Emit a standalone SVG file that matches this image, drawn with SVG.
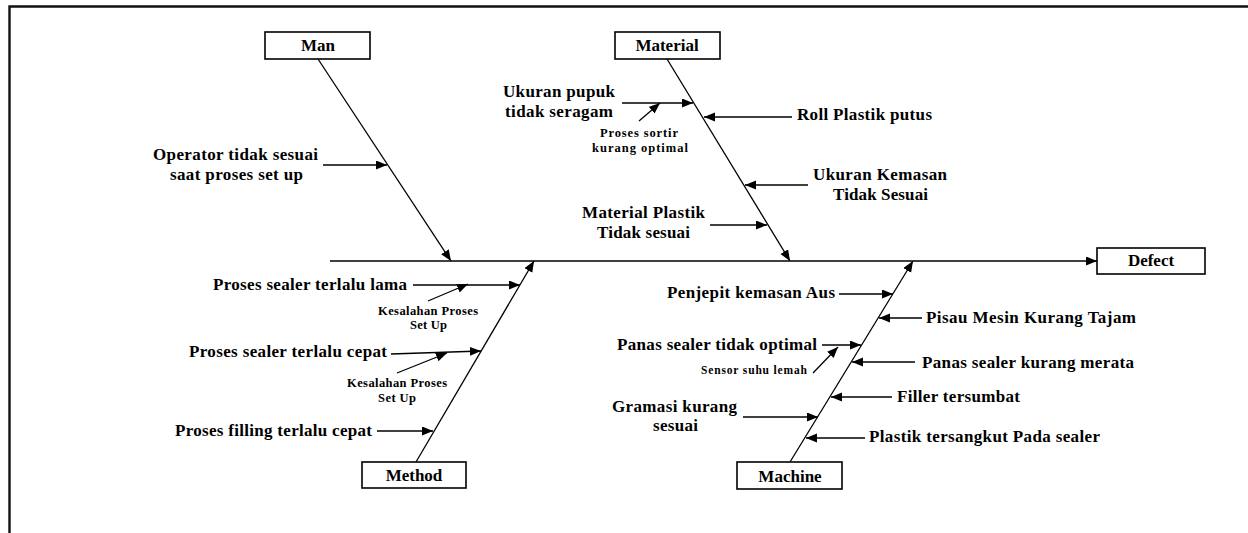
<svg xmlns="http://www.w3.org/2000/svg" width="1248" height="533" viewBox="0 0 1248 533">
<style>
.t{font-family:"Liberation Serif","Times New Roman",serif;font-weight:bold;font-size:17px;fill:#000}
.s{font-family:"Liberation Serif","Times New Roman",serif;font-weight:bold;font-size:12.5px;fill:#000}
.xs{font-family:"Liberation Serif","Times New Roman",serif;font-weight:bold;font-size:11.5px;fill:#000}
.b{fill:#fff;stroke:#000;stroke-width:1.6}
.l{stroke:#000;stroke-width:1.3;fill:none;marker-end:url(#ah)}
.frame{stroke:#111;stroke-width:2.4;fill:none}
</style>
<defs>
<marker id="ah" markerUnits="userSpaceOnUse" markerWidth="12" markerHeight="10" refX="11" refY="4.5" orient="auto">
<path d="M0,0 L11,4.5 L0,9 Z" fill="#000"/>
</marker>
</defs>
<rect width="1248" height="533" fill="#fff"/>
<path class="frame" d="M9.5,533 V6.5 H1248"/>

<g id="connectors">
<line class="l" x1="330" y1="261" x2="1097" y2="261"/>
<line class="l" x1="318" y1="59" x2="451" y2="261"/>
<line class="l" x1="667" y1="59" x2="790" y2="261"/>
<line class="l" x1="416" y1="462" x2="534" y2="261"/>
<line class="l" x1="790" y1="462" x2="913" y2="261"/>
<line class="l" x1="323" y1="165" x2="387" y2="165"/>
<line class="l" x1="622" y1="103" x2="693" y2="103"/>
<line class="l" x1="639" y1="121" x2="660" y2="103"/>
<line class="l" x1="792" y1="117" x2="704" y2="117"/>
<line class="l" x1="808" y1="185" x2="745" y2="185"/>
<line class="l" x1="710" y1="225" x2="767" y2="225"/>
<line class="l" x1="413" y1="285" x2="520" y2="285"/>
<line class="l" x1="428" y1="301" x2="468" y2="284"/>
<line class="l" x1="391" y1="354" x2="481" y2="351"/>
<line class="l" x1="397" y1="373" x2="447" y2="353"/>
<line class="l" x1="377" y1="431" x2="433" y2="431"/>
<line class="l" x1="839" y1="294" x2="893" y2="294"/>
<line class="l" x1="922" y1="318" x2="879" y2="318"/>
<line class="l" x1="822" y1="345" x2="861" y2="345"/>
<line class="l" x1="813" y1="373" x2="838" y2="347"/>
<line class="l" x1="915" y1="362" x2="852" y2="362"/>
<line class="l" x1="892" y1="397" x2="831" y2="397"/>
<line class="l" x1="743" y1="417" x2="818" y2="417"/>
<line class="l" x1="865" y1="438" x2="806" y2="438"/>
</g>

<g id="man">
<rect class="b" x="265" y="32" width="105" height="27"/>
<text class="t" x="318" y="51" text-anchor="middle">Man</text>
</g>
<g id="material">
<rect class="b" x="615" y="32" width="105" height="27"/>
<text class="t" x="667" y="51" text-anchor="middle">Material</text>
</g>
<g id="method">
<rect class="b" x="362" y="462" width="104" height="26"/>
<text class="t" x="414" y="481" text-anchor="middle">Method</text>
</g>
<g id="machine">
<rect class="b" x="737" y="462" width="105" height="27"/>
<text class="t" x="790" y="482" text-anchor="middle">Machine</text>
</g>
<g id="defect">
<rect class="b" x="1097" y="248" width="108" height="26"/>
<text class="t" x="1151" y="266" text-anchor="middle">Defect</text>
</g>

<g id="man-causes">
<text class="t" x="153" y="160" textLength="165" lengthAdjust="spacing">Operator tidak sesuai</text>
<text class="t" x="170" y="180" textLength="133" lengthAdjust="spacing">saat proses set up</text>
</g>

<g id="material-causes">
<text class="t" x="503" y="97" textLength="112" lengthAdjust="spacing">Ukuran pupuk</text>
<text class="t" x="505" y="117" textLength="108" lengthAdjust="spacing">tidak seragam</text>
<text class="s" x="600" y="137" textLength="78" lengthAdjust="spacing">Proses sortir</text>
<text class="s" x="592" y="152" textLength="96" lengthAdjust="spacing">kurang optimal</text>
<text class="t" x="797" y="120" textLength="135" lengthAdjust="spacing">Roll Plastik putus</text>
<text class="t" x="813" y="180" textLength="134" lengthAdjust="spacing">Ukuran Kemasan</text>
<text class="t" x="833" y="200" textLength="95" lengthAdjust="spacing">Tidak Sesuai</text>
<text class="t" x="582" y="218" textLength="123" lengthAdjust="spacing">Material Plastik</text>
<text class="t" x="597" y="238" textLength="93" lengthAdjust="spacing">Tidak sesuai</text>
</g>

<g id="method-causes">
<text class="t" x="213" y="290" textLength="194" lengthAdjust="spacing">Proses sealer terlalu lama</text>
<text class="s" x="378" y="315" textLength="100" lengthAdjust="spacing">Kesalahan Proses</text>
<text class="s" x="410" y="329" textLength="37" lengthAdjust="spacing">Set Up</text>
<text class="t" x="189" y="357" textLength="198" lengthAdjust="spacing">Proses sealer terlalu cepat</text>
<text class="s" x="347" y="387" textLength="100" lengthAdjust="spacing">Kesalahan Proses</text>
<text class="s" x="378" y="402" textLength="38" lengthAdjust="spacing">Set Up</text>
<text class="t" x="175" y="436" textLength="197" lengthAdjust="spacing">Proses filling terlalu cepat</text>
</g>

<g id="machine-causes">
<text class="t" x="667" y="298" textLength="168" lengthAdjust="spacing">Penjepit kemasan Aus</text>
<text class="t" x="926" y="323" textLength="210" lengthAdjust="spacing">Pisau Mesin Kurang Tajam</text>
<text class="t" x="617" y="350" textLength="200" lengthAdjust="spacing">Panas sealer tidak optimal</text>
<text class="xs" x="701" y="374" textLength="106" lengthAdjust="spacing">Sensor suhu lemah</text>
<text class="t" x="922" y="368" textLength="212" lengthAdjust="spacing">Panas sealer kurang merata</text>
<text class="t" x="897" y="402" textLength="123" lengthAdjust="spacing">Filler tersumbat</text>
<text class="t" x="612" y="412" textLength="125" lengthAdjust="spacing">Gramasi kurang</text>
<text class="t" x="653" y="431" textLength="45" lengthAdjust="spacing">sesuai</text>
<text class="t" x="869" y="442" textLength="231" lengthAdjust="spacing">Plastik tersangkut Pada sealer</text>
</g>
</svg>
